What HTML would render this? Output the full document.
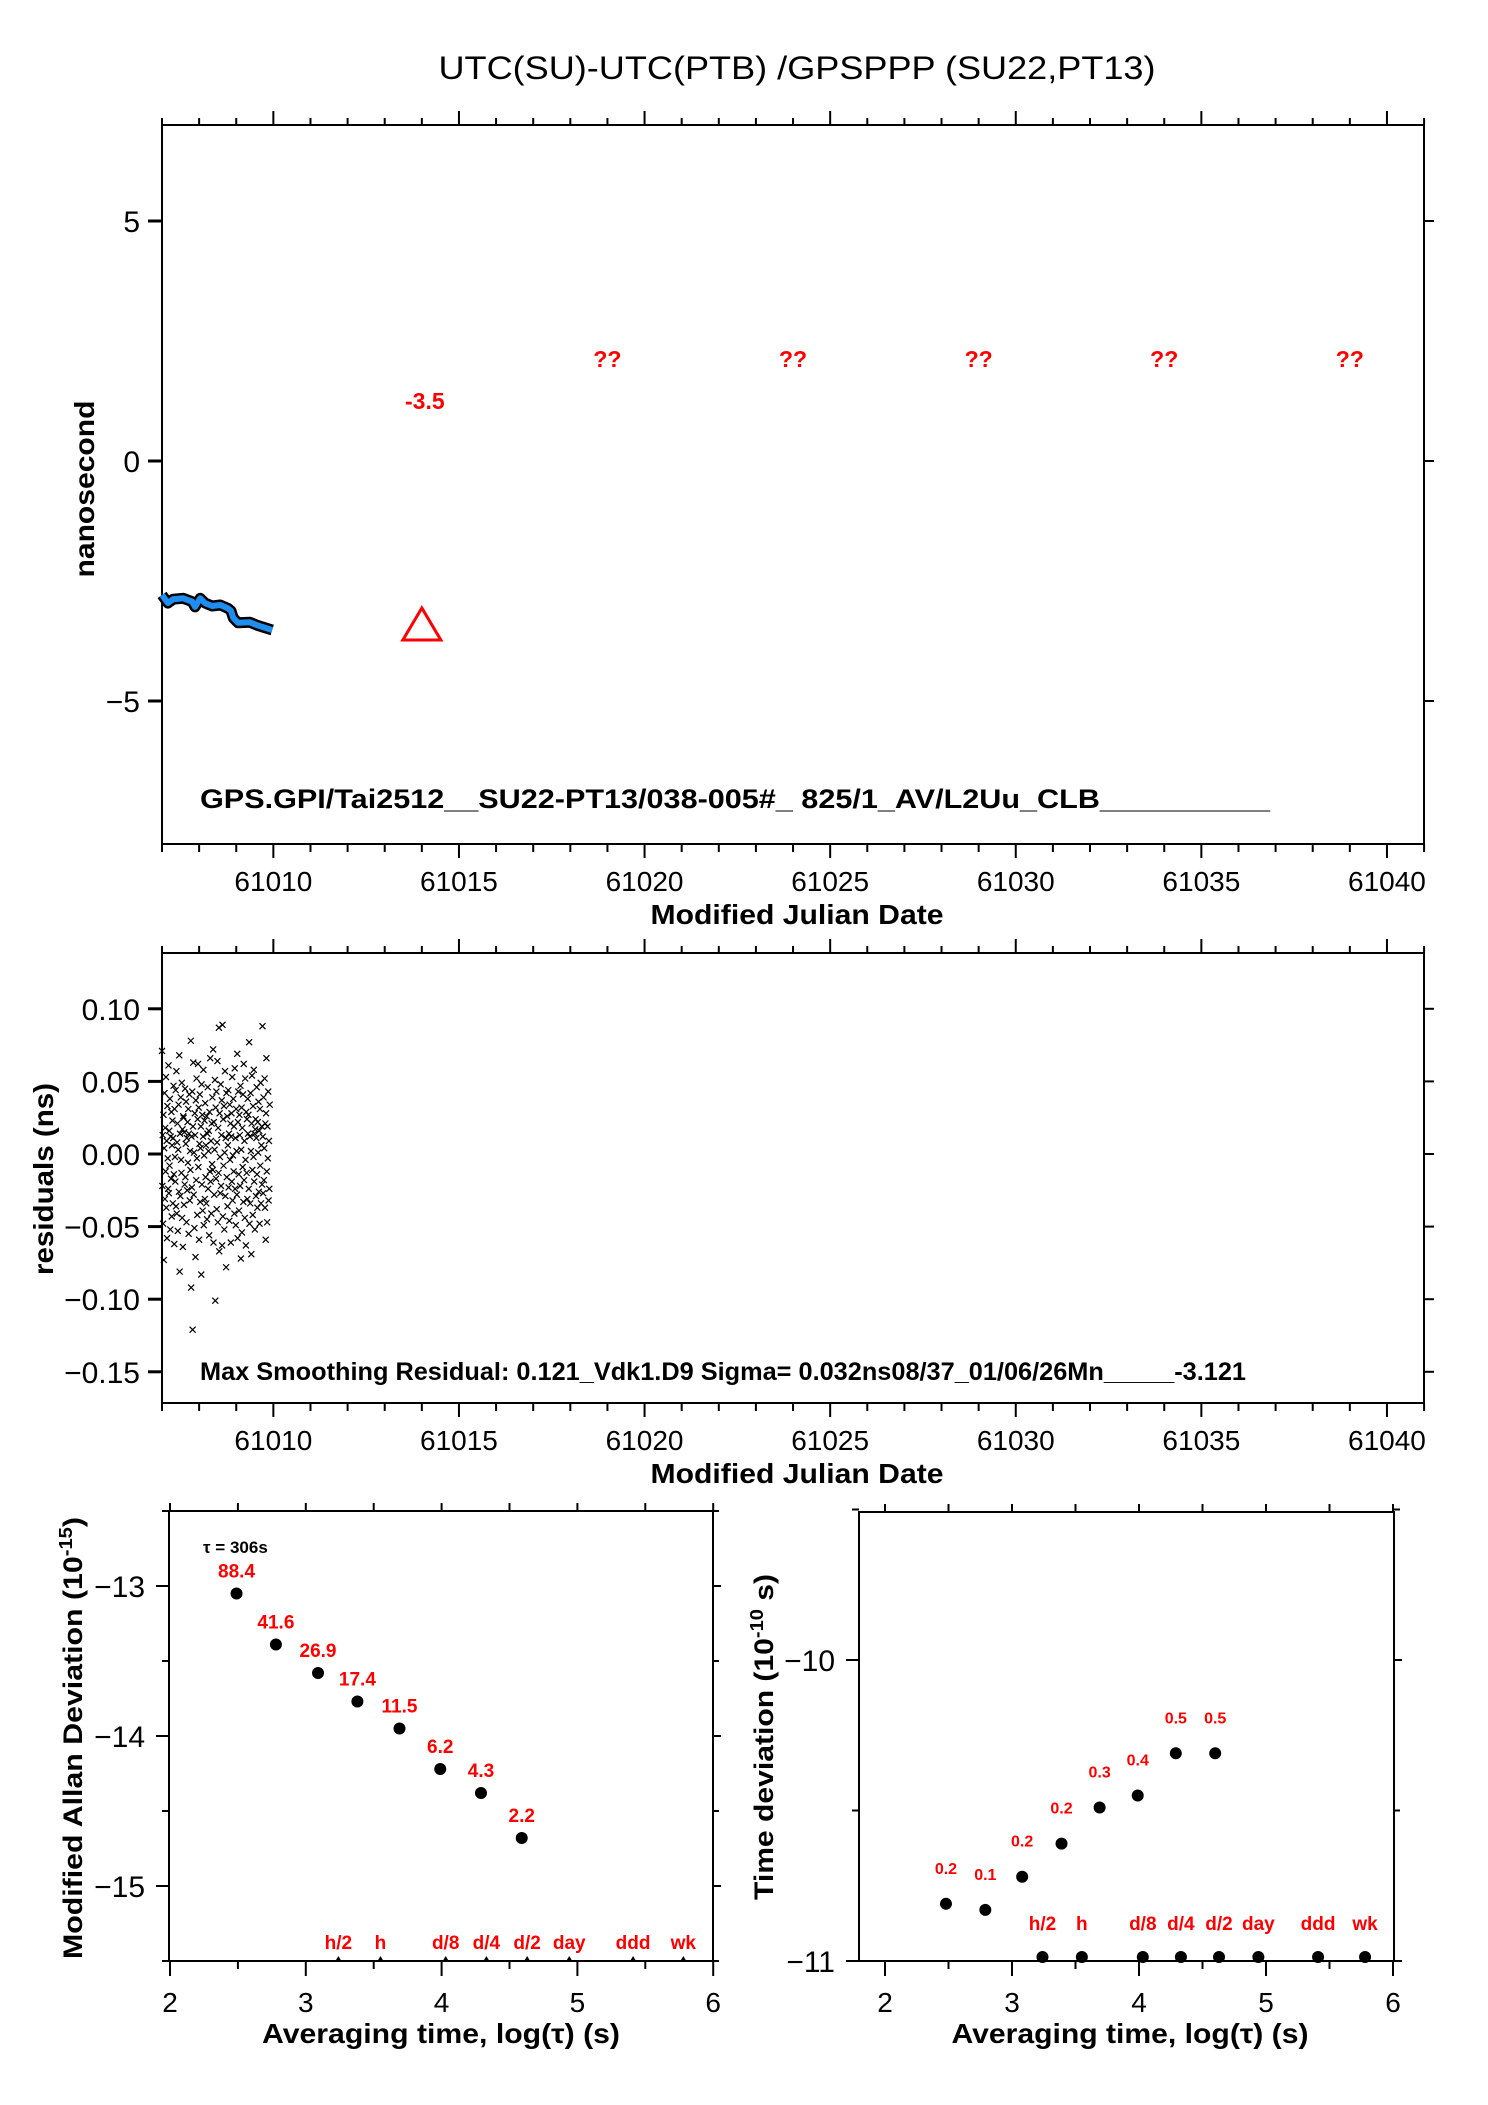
<!DOCTYPE html>
<html><head><meta charset="utf-8"><style>
html,body{margin:0;padding:0;background:#fff;}
svg{display:block;font-family:"Liberation Sans",Arial,sans-serif;}
</style></head><body>
<svg id="fig" width="1488" height="2105" viewBox="0 0 1488 2105">
<rect x="0" y="0" width="1488" height="2105" fill="#fff"/>
<text x="797" y="79" font-size="32" text-anchor="middle" textLength="717" lengthAdjust="spacingAndGlyphs">UTC(SU)-UTC(PTB)  /GPSPPP  (SU22,PT13)</text>
<g id="g1"></g>
<g id="g2"></g>
<g id="g3"></g>
<g id="g4"></g>
</svg>
<script>
// ---------- DATA ----------
const offsetMjd = [61007.0,61007.16,61007.30,61007.57,61007.81,61007.89,61008.03,61008.16,61008.35,61008.57,61008.78,61008.86,61008.92,61009.05,61009.37,61009.56,61009.97];
const offsetNs  = [-2.79,-2.96,-2.88,-2.86,-2.93,-3.04,-2.86,-2.96,-3.02,-3.00,-3.07,-3.12,-3.27,-3.37,-3.36,-3.42,-3.52];
const redLabelMjd = [61019,61024,61029,61034,61039];
const redLabelText = ["??","??","??","??","??"];
const markerMjd = 61014;
const markerNs = -3.5;
const markerLabel = "-3.5";
const xTickMjd = [61010,61015,61020,61025,61030,61035,61040];
const y1Ticks = [5,0,-5];
const y1TickLabels = ["5","0","\u22125"];
const y2Ticks = [0.10,0.05,0.00,-0.05,-0.10,-0.15];
const y2TickLabels = ["0.10","0.05","0.00","\u22120.05","\u22120.10","\u22120.15"];
const residStartMjd = 61007.0;
const residStepDay = 0.0097;
const residNs = [
0.071,-0.022,0.013,-0.048,0.027,-0.073,0.004,0.042,-0.031,0.018,-0.012,0.053,-0.037,0.009,-0.058,0.033,-0.003,-0.024,0.061,-0.027,
0.016,-0.008,0.038,-0.052,0.012,-0.017,0.029,-0.043,0.006,0.023,-0.034,0.011,0.047,-0.014,-0.062,0.031,-0.002,-0.019,0.044,-0.036,
0.057,-0.041,0.008,0.021,-0.053,0.003,0.034,-0.026,0.068,-0.081,0.014,-0.029,0.039,-0.004,-0.013,0.049,-0.044,0.017,-0.064,0.026,
0.025,-0.035,0.015,-0.021,0.045,-0.016,0.007,0.036,-0.047,0.011,-0.025,0.022,-0.006,0.031,-0.055,0.014,0.041,-0.032,0.002,-0.011,
0.078,-0.092,0.012,-0.023,0.043,-0.121,0.019,0.063,-0.028,0.001,-0.051,0.028,0.013,-0.071,0.037,-0.018,0.052,-0.003,-0.042,0.024,
0.062,-0.009,0.032,-0.059,0.007,0.041,-0.033,0.004,0.019,-0.083,0.048,-0.021,0.027,-0.039,0.012,0.058,-0.049,-0.001,0.023,-0.031,
0.035,-0.016,0.006,-0.034,0.026,-0.045,0.014,0.046,-0.024,0.002,0.016,-0.056,0.029,-0.012,0.066,-0.019,0.009,-0.041,0.021,-0.007,
0.039,-0.011,0.072,-0.061,0.022,-0.028,0.003,0.051,-0.101,0.032,-0.017,0.043,-0.038,0.008,0.064,-0.047,0.018,-0.013,0.087,-0.067,
0.028,-0.002,-0.027,0.048,-0.022,0.013,0.037,-0.063,0.089,-0.043,0.024,-0.008,0.033,-0.052,0.001,0.057,-0.029,0.011,-0.078,0.042,
-0.016,0.026,-0.036,0.006,0.044,-0.023,0.014,-0.046,0.034,-0.004,0.021,-0.061,0.012,0.028,-0.019,0.053,-0.032,-0.001,0.038,-0.012,
0.019,-0.041,0.059,-0.024,0.011,-0.049,0.031,0.002,-0.028,0.069,-0.058,0.022,0.043,-0.014,-0.039,0.027,0.013,-0.022,0.047,-0.072,
0.003,0.032,-0.054,0.018,-0.009,0.041,-0.033,0.062,-0.018,0.009,-0.044,0.052,-0.004,-0.063,0.029,-0.013,0.024,-0.031,0.038,0.014,
0.027,-0.024,0.077,-0.048,0.012,-0.034,0.042,0.002,-0.069,0.021,0.054,-0.011,-0.042,0.033,-0.002,0.058,-0.019,0.014,-0.052,0.017,
0.024,-0.029,0.011,0.046,-0.014,-0.037,0.022,0.001,0.036,-0.026,0.016,-0.048,0.031,-0.008,0.049,-0.034,0.006,0.019,-0.021,0.088,
0.012,-0.027,0.039,-0.018,0.004,0.052,-0.037,0.021,-0.059,0.028,0.066,-0.012,-0.047,0.019,-0.003,0.043,-0.032,0.009,-0.024,0.034
];
const mdevLog = [2.49,2.78,3.09,3.38,3.69,3.99,4.29,4.59];
const mdevVal = [-13.05,-13.39,-13.58,-13.77,-13.95,-14.22,-14.38,-14.68];
const mdevLabels = ["88.4","41.6","26.9","17.4","11.5","6.2","4.3","2.2"];
const tdevLog = [2.48,2.79,3.08,3.39,3.69,3.99,4.29,4.60];
const tdevVal = [-10.81,-10.83,-10.72,-10.61,-10.49,-10.45,-10.31,-10.31];
const tdevLabels = ["0.2","0.1","0.2","0.2","0.3","0.4","0.5","0.5"];
const periodLog = [3.24,3.55,4.03,4.33,4.63,4.94,5.41,5.78];
const periodLabels = ["h/2","h","d/8","d/4","d/2","day","ddd","wk"];
const logTicks = [2,3,4,5,6];
const mdevTicks = [-13,-14,-15];
const tdevTicks = [-10,-11];

// ---------- AXES ----------
const NS='http://www.w3.org/2000/svg';
function mk(parent,tag,attrs,txt){const e=document.createElementNS(NS,tag);for(const k in attrs)e.setAttribute(k,attrs[k]);if(txt!==undefined)e.textContent=txt;parent.appendChild(e);return e;}
const X1=m=>162+(m-61007)*37.12;
const Y1=v=>461-48*v;
const Y2=v=>1154-1452*v;
const X3=l=>170+(l-2)*135.8;
const Y3=v=>1586+(-13-v)*150;
const X4=l=>1139+(l-4)*127;
const Y4=v=>1660+(-10-v)*301;

function frame(g,L,T,R,B,name){
  const r=mk(g,'rect',{x:L,y:T,width:R-L,height:B-T,fill:'none',stroke:'#000','stroke-width':2});
  
  
}
function line(g,x1,y1,x2,y2,w){return mk(g,'line',{x1,y1,x2,y2,stroke:'#000','stroke-width':w||2});}
function txt(g,x,y,s,attrs,name){const t=mk(g,'text',Object.assign({x,y},attrs),s);
  
  
  return t;}

function mjdPanel(g,T,B,Y,yt,ytl,pfx){
  frame(g,162,T,1424,B,pfx+'-plot-frame');
  for(let m=61007;m<=61041;m++){
    const x=X1(m), major=(m%5===0);
    line(g,x,T,x,T-(major?14:7));
    line(g,x,B,x,B+(major?14:8));
  }
  xTickMjd.forEach(m=>{txt(g,X1(m),B+47,String(m),{'font-size':28,'text-anchor':'middle'},pfx+'-x-tick-label');});
  yt.forEach((v,i)=>{const y=Y(v);line(g,148,y,162,y,3);line(g,1424,y,1434,y,2);
    txt(g,140,y+11,ytl[i],{'font-size':30,'text-anchor':'end'},pfx+'-y-tick-label');});
  txt(g,797,B+80,'Modified Julian Date',{'font-size':28,'font-weight':'bold','text-anchor':'middle',textLength:293,lengthAdjust:'spacingAndGlyphs'},pfx+'-x-axis-title');
}
const g1=document.getElementById('g1');
mjdPanel(g1,125,844,Y1,y1Ticks,y1TickLabels,'offset');
txt(g1,0,0,'nanosecond',{'font-size':28,'font-weight':'bold','text-anchor':'middle',transform:'translate(94,489) rotate(-90)',textLength:177,lengthAdjust:'spacingAndGlyphs'},'offset-y-axis-title');
let pts=offsetMjd.map((m,i)=>X1(m).toFixed(1)+','+Y1(offsetNs[i]).toFixed(1)).join(' ');
const band=mk(g1,'polyline',{points:pts,fill:'none',stroke:'#000','stroke-width':11,'stroke-linejoin':'round'});


const blue=mk(g1,'polyline',{points:pts,fill:'none',stroke:'#1e8ff0','stroke-width':6,'stroke-linejoin':'round'});


redLabelMjd.forEach((m,i)=>{txt(g1,X1(m),367,redLabelText[i],{'font-size':23,'font-weight':'bold',fill:'#f00','text-anchor':'middle'},'missing-value-label');});
txt(g1,X1(markerMjd)+3,409,markerLabel,{'font-size':23,'font-weight':'bold',fill:'#f00','text-anchor':'middle'},'mean-offset-label');
{const cx=X1(markerMjd),cy=Y1(markerNs);
 const tri=mk(g1,'polygon',{points:`${cx},${cy-21} ${cx-19},${cy+11} ${cx+19},${cy+11}`,fill:'none',stroke:'#f00','stroke-width':3});
 
 }
txt(g1,200,808,'GPS.GPI/Tai2512__SU22-PT13/038-005#_  825/1_AV/L2Uu_CLB__________',{'font-size':27,'font-weight':'bold',textLength:1070,lengthAdjust:'spacingAndGlyphs'},'link-info-text');

const g2=document.getElementById('g2');
mjdPanel(g2,953,1403,Y2,y2Ticks,y2TickLabels,'residuals');
txt(g2,0,0,'residuals (ns)',{'font-size':28,'font-weight':'bold','text-anchor':'middle',transform:'translate(53,1179) rotate(-90)',textLength:192,lengthAdjust:'spacingAndGlyphs'},'residuals-y-axis-title');
residNs.forEach((v,i)=>{
  const x=X1(residStartMjd+i*residStepDay), y=Y2(v);
  const p=mk(g2,'path',{d:`M${x-3},${y-3}L${x+3},${y+3}M${x-3},${y+3}L${x+3},${y-3}`,stroke:'#000','stroke-width':1.2,fill:'none'});
  
  
});
txt(g2,200,1380,'Max Smoothing Residual: 0.121_Vdk1.D9  Sigma= 0.032ns08/37_01/06/26Mn_____-3.121',{'font-size':25,'font-weight':'bold',textLength:1046,lengthAdjust:'spacingAndGlyphs'},'residual-stats-text');

function logPanel(g,L,T,R,B,X,Y,yt,pfx,ymin,ymax){
  frame(g,L,T,R,B,pfx+'-plot-frame');
  for(let l=2;l<=6.001;l+=0.5){const x=X(l),maj=Math.abs(l-Math.round(l))<0.01;
    line(g,x,T,x,T-8);line(g,x,B,x,B+(maj?15:8));}
  for(let v=Math.ceil(ymin*2)/2;v<=ymax+0.001;v+=0.5){const y=Y(v),maj=Math.abs(v-Math.round(v))<0.01;
    line(g,L,y,L-(maj?13:7),y);line(g,R,y,R+(maj?8:6),y);}
  logTicks.forEach(l=>txt(g,X(l),2012,String(l),{'font-size':28,'text-anchor':'middle'},pfx+'-x-tick-label'));
  yt.forEach(v=>txt(g,L-24,Y(v)+11,'\u2212'+String(-v),{'font-size':30,'text-anchor':'end'},pfx+'-y-tick-label'));
}
const g3=document.getElementById('g3');
logPanel(g3,169,1511,713,1961,X3,Y3,mdevTicks,'mdev',-15.5,-12.5);
const g4=document.getElementById('g4');
logPanel(g4,859,1512,1394,1961,X4,Y4,tdevTicks,'tdev',-11,-9.5);

txt(g3,441,2043,'Averaging time, log(\u03c4) (s)',{'font-size':28,'font-weight':'bold','text-anchor':'middle',textLength:358,lengthAdjust:'spacingAndGlyphs'},'mdev-x-axis-title');
txt(g4,1130,2043,'Averaging time, log(\u03c4) (s)',{'font-size':28,'font-weight':'bold','text-anchor':'middle',textLength:357,lengthAdjust:'spacingAndGlyphs'},'tdev-x-axis-title');
{const t=txt(g3,0,0,'',{'font-size':27,'font-weight':'bold','text-anchor':'middle',transform:'translate(82,1738) rotate(-90)',textLength:442,lengthAdjust:'spacingAndGlyphs'},'mdev-y-axis-title');
 mk(t,'tspan',{},'Modified Allan Deviation (10');mk(t,'tspan',{dy:-10,'font-size':18},'-15');mk(t,'tspan',{dy:10},')');}
{const t=txt(g4,0,0,'',{'font-size':27,'font-weight':'bold','text-anchor':'middle',transform:'translate(773,1737) rotate(-90)',textLength:326,lengthAdjust:'spacingAndGlyphs'},'tdev-y-axis-title');
 mk(t,'tspan',{},'Time deviation (10');mk(t,'tspan',{dy:-10,'font-size':18},'-10');mk(t,'tspan',{dy:10},' s)');}
txt(g3,203,1553,'\u03c4 = 306s',{'font-size':17,'font-weight':'bold'},'tau0-label');

mdevLog.forEach((l,i)=>{const x=X3(l),y=Y3(mdevVal[i]);
  const c=mk(g3,'circle',{cx:x,cy:y,r:6,fill:'#000'});
  
  
  txt(g3,x,y-16,mdevLabels[i],{'font-size':19,'font-weight':'bold',fill:'#f00','text-anchor':'middle'},'mdev-value-label');});
tdevLog.forEach((l,i)=>{const x=X4(l),y=Y4(tdevVal[i]);
  const c=mk(g4,'circle',{cx:x,cy:y,r:6,fill:'#000'});
  
  
  txt(g4,x,y-30,tdevLabels[i],{'font-size':16,'font-weight':'bold',fill:'#f00','text-anchor':'middle'},'tdev-value-label');});
periodLog.forEach((l,i)=>{
  const x3=X3(l);
  const m3=mk(g3,'path',{d:`M${x3-3},1961L${x3},1956L${x3+3},1961Z`,fill:'#000'});
  
  
  txt(g3,x3,1949,periodLabels[i],{'font-size':19,'font-weight':'bold',fill:'#f00','text-anchor':'middle'},'mdev-period-label');
  const x4=X4(l);
  const m4=mk(g4,'circle',{cx:x4,cy:1957,r:6,fill:'#000'});
  
  
  txt(g4,x4,1930,periodLabels[i],{'font-size':19,'font-weight':'bold',fill:'#f00','text-anchor':'middle'},'tdev-period-label');
});
</script>
</body></html>
